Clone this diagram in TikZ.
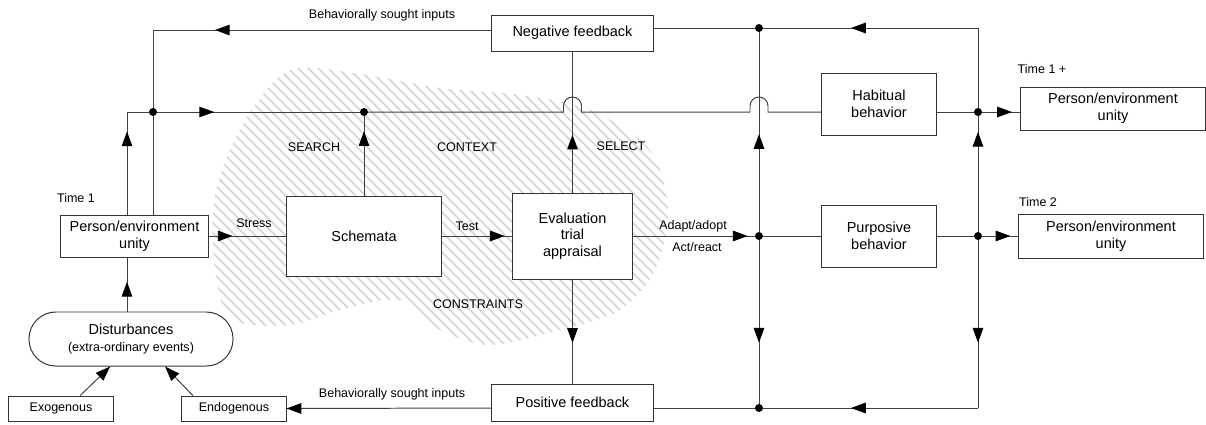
\documentclass[tikz,border=0pt]{standalone}
\usepackage{fontspec}
\setmainfont{Liberation Sans}
\usetikzlibrary{arrows.meta,calc,decorations.markings}
\tikzset{
	box/.style={
			draw=black!80, fill=white, line width=0.7pt, align=center, inner sep=1pt,
			font=\fontsize{10.3}{11.8}\selectfont
		},
	smallbox/.style={box, font=\fontsize{8.9}{10}\selectfont},
	lbl/.style={font=\fontsize{8.9}{10}\selectfont, inner sep=0pt},
	line/.style={draw=black!75, line width=0.7pt},
	tip/.style={-{Triangle[length=10.5pt, width=7.5pt, color=black]}},
	flow/.style={
			postaction={decorate},
			decoration={markings, mark=at position #1 with {\arrow{Triangle[length=10.5pt, width=7.5pt, color=black]}}}
		}
}

\begin{document}
\begin{tikzpicture}[x=0.025cm, y=-0.025cm]
		\useasboundingbox (0,0) rectangle (1206,424);

		\begin{scope}
			\clip plot[smooth cycle] coordinates {(290,70) (360,74) (440,88) (520,95) (590,110) (650,150) (668,210) (655,270) (620,310) (560,330) (490,345) (440,330) (400,300) (340,310) (290,325) (230,318) (214,260) (216,190) (245,120)};
			\foreach \i in {-100,-90,...,650} {
				\draw[black!17, line width=1.2pt]	(\i, 40) to (\i + 400, 440);
			}
		\end{scope}

		\node[box, minimum width=3.675cm, minimum height=1.05cm]	(pe1) at (134.5, 236) {Person/environment\\unity};
		\node[box, minimum width=3.875cm, minimum height=2cm]		(schem) at (364, 236) {Schemata};
		\node[box, minimum width=2.975cm, minimum height=2.15cm]	(eval) at (572.5, 236) {Evaluation\\trial\\appraisal};
		\node[box, minimum width=4.025cm, minimum height=0.9cm]		(negfb) at (572.5, 33) {Negative feedback};
		\node[box, minimum width=4.025cm, minimum height=0.925cm]	(posfb) at (572.5, 402.5) {Positive feedback};
		\node[box, minimum width=2.85cm, minimum height=1.55cm]		(habit) at (879, 104) {Habitual\\behavior};
		\node[box, minimum width=2.85cm, minimum height=1.55cm]		(purp) at (879, 236) {Purposive\\behavior};
		\node[box, minimum width=4.6cm, minimum height=1.075cm]		(pe1p) at (1113, 108.5) {Person/environment\\unity};
		\node[box, minimum width=4.6cm, minimum height=1.1cm]		(pe2) at (1111, 236) {Person/environment\\unity};
		\node[box, rounded corners=0.67cm, minimum width=5.1cm, minimum height=1.35cm] (dist) at (131, 339)
			{Disturbances\\{\fontsize{8.9}{10}\selectfont (extra-ordinary events)}};
		\node[smallbox, minimum width=2.6cm, minimum height=0.625cm]	(exo) at (61, 408.5) {Exogenous};
		\node[smallbox, minimum width=2.6cm, minimum height=0.625cm]	(endo) at (234, 408.5) {Endogenous};

		\coordinate (cUp) at (127, 112);
		\coordinate (jL) at (153, 112);
		\coordinate (cTL) at (153, 30);
		\coordinate (jS) at (364, 112);
		\coordinate (jTop) at (759, 28);
		\coordinate (jMid) at (759, 236);
		\coordinate (jBot) at (759, 408);
		\coordinate (jH) at (978, 112);
		\coordinate (jP) at (978, 236);
		\coordinate (cTR) at (978, 28);
		\coordinate (cBR) at (978, 408);

		\draw[line, flow=0.81]	(pe1.north -| cUp) to (cUp);
		\draw[line]				(cUp) to (jL);
		\draw[line, flow=0.29]	(jL) to (jS);
		\draw[line]				(jS) -- ($(eval.north |- jS) + (-9, 0)$) -- ++(0, -6)
			arc[start angle=180, end angle=360, radius=9] -- ++(0, 6)
			-- ($(jTop |- jS) + (-9, 0)$) -- ++(0, -6)
			arc[start angle=180, end angle=360, radius=9] -- ++(0, 6)
			-- (habit.west |- jS);
		\draw[line, flow=0.77]	(schem.north) to (jS);
		\draw[line, flow=0.817]	(negfb.west |- cTL) to (cTL);
		\draw[line]				(cTL) to (pe1.north -| cTL);
		\draw[line, flow=0.55]	(dist.north -| cUp) to (pe1.south -| cUp);
		\draw[line, flow=0.31]	(pe1.east) to (schem.west);
		\draw[line, flow=0.89]	(schem.east) to (eval.west);
		\draw[line, flow=0.91]	(eval.east) to (jMid);
		\draw[line]				(jMid) to (purp.west);
		\draw[line, flow=0.41]	(eval.north) to (negfb.south);
		\draw[line, flow=0.61]	(eval.south) to (posfb.north);
		\draw[line]				(negfb.east |- jTop) to (jTop);
		\draw[line, flow=0.58]	(cTR) to (jTop);
		\draw[line, flow=0.49]	(jMid) to (jTop);
		\draw[line, flow=0.62]	(jMid) to (jBot);
		\draw[line]				(posfb.east |- jBot) to (jBot);
		\draw[line, flow=0.58]	(cBR) to (jBot);
		\draw[line, flow=0.62]	(jP) to (cBR);
		\draw[line, flow=0.84]	(jP) to (jH);
		\draw[line]				(jH) to (cTR);
		\draw[line]				(habit.east |- jH) to (jH);
		\draw[line, flow=0.8]	(jH) to (pe1p.west |- jH);
		\draw[line]				(purp.east) to (jP);
		\draw[line, flow=0.8]	(jP) to (pe2.west);
		\draw[line, tip]		(posfb.west |- jBot) to (endo.east);
		\draw[line, tip]		([xshift=0.48cm]exo.north) to ([xshift=-0.52cm]dist.south);
		\draw[line, tip]		([xshift=-1.03cm]endo.north) to ([xshift=0.85cm]dist.south);

		\foreach \j in {jL, jS, jTop, jMid, jBot, jH, jP} {
			\fill[black]	(\j) circle (4);
		}

		\node[lbl] (lInTop) at (382, 15) {Behaviorally sought inputs};
		\node[lbl] (lInBot) at (392, 394) {Behaviorally sought inputs};
		\node[lbl] (lStress) at (254, 223) {Stress};
		\node[lbl] (lTest) at (467, 226) {Test};
		\node[lbl] (lAdapt) at (693, 226) {Adapt/adopt};
		\node[lbl] (lAct) at (697, 247) {Act/react};
		\node[lbl] (lSearch) at (314, 147) {SEARCH};
		\node[lbl] (lContext) at (467, 147) {CONTEXT};
		\node[lbl] (lSelect) at (621, 146) {SELECT};
		\node[lbl] (lConstr) at (478, 304) {CONSTRAINTS};
		\node[lbl] (lTime1) at (76, 198) {Time 1};
		\node[lbl] (lTime1p) at (1042, 69) {Time 1 +};
		\node[lbl] (lTime2) at (1038, 202) {Time 2};
	\end{tikzpicture}
\end{document}
